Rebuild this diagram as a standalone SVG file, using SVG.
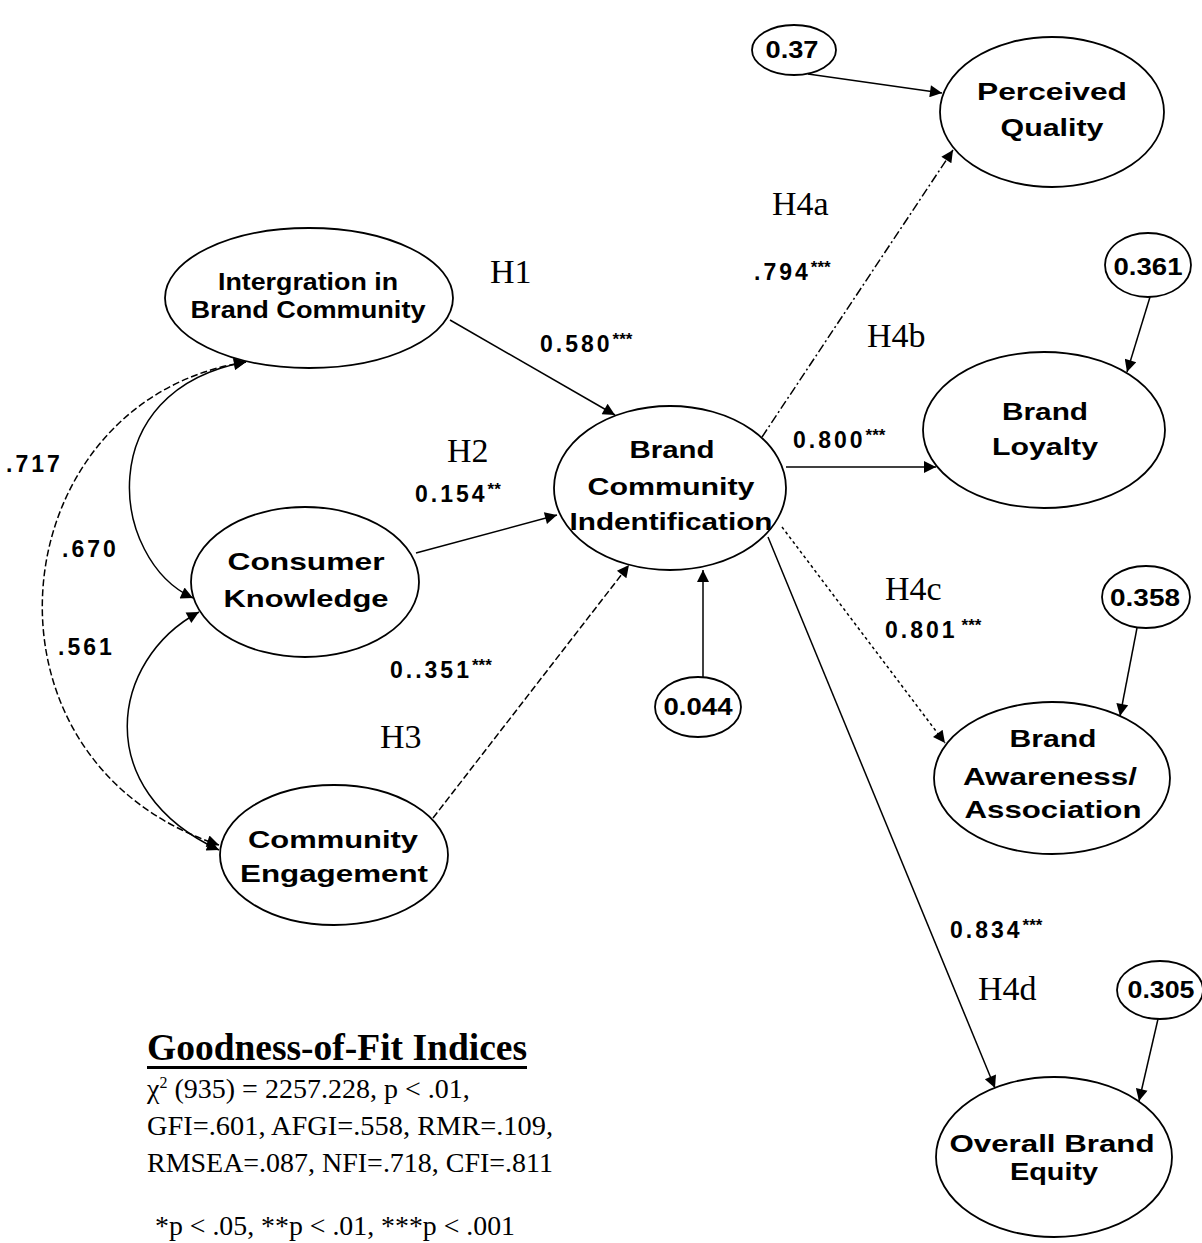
<svg xmlns="http://www.w3.org/2000/svg" width="1202" height="1243" viewBox="0 0 1202 1243">
<style>
.node{fill:#fff;stroke:#000;stroke-width:1.8}
.lbl{font-family:"Liberation Sans",Arial,sans-serif;font-weight:bold;font-size:24px;fill:#000;text-anchor:middle}
.err{font-family:"Liberation Sans",Arial,sans-serif;font-weight:bold;font-size:23px;fill:#000;text-anchor:middle}
.val{font-family:"Liberation Sans",Arial,sans-serif;font-weight:bold;font-size:23px;fill:#000;letter-spacing:3px}
.sup{font-size:17px;letter-spacing:0}
.hyp{font-family:"Liberation Serif","Times New Roman",serif;font-size:34px;fill:#000}
.fit{font-family:"Liberation Serif","Times New Roman",serif;font-size:28px;fill:#000}
.ttl{font-family:"Liberation Serif","Times New Roman",serif;font-size:37px;font-weight:bold;fill:#000}
.c{fill:none;stroke:#000;stroke-width:1.5}
</style>
<defs>
<marker id="ah" viewBox="0 0 10 10" refX="10" refY="5" markerWidth="17" markerHeight="12" markerUnits="userSpaceOnUse" orient="auto-start-reverse">
<path d="M0,0 L10,5 L0,10 z" fill="#000"/>
</marker>
</defs>
<rect width="1202" height="1243" fill="#fff"/>

<g id="connectors">
<path class="c" d="M450,320 L615,415" marker-end="url(#ah)"/>
<path class="c" d="M416,553 L557,515" marker-end="url(#ah)"/>
<path class="c" d="M433,818 L629,565" stroke-dasharray="7 3" marker-end="url(#ah)"/>
<path class="c" d="M703,677 L703,570" marker-end="url(#ah)"/>
<path class="c" d="M762,437 L953,150" stroke-dasharray="9 3 2 3" marker-end="url(#ah)"/>
<path class="c" d="M786,467 L936,467" marker-end="url(#ah)"/>
<path class="c" d="M782,527 L945,743" stroke-dasharray="3 3" marker-end="url(#ah)"/>
<path class="c" d="M768,537 L995,1088" marker-end="url(#ah)"/>
<path class="c" d="M808,74 L942,93" marker-end="url(#ah)"/>
<path class="c" d="M1150,297 L1127,372" marker-end="url(#ah)"/>
<path class="c" d="M1137,628 L1120,716" marker-end="url(#ah)"/>
<path class="c" d="M1158,1019 L1139,1101" marker-end="url(#ah)"/>
<path class="c" d="M246,362 C90,390 110,560 193,598" marker-start="url(#ah)" marker-end="url(#ah)"/>
<path class="c" d="M199,612 C110,660 90,790 219,850" marker-start="url(#ah)" marker-end="url(#ah)"/>
<path class="c" d="M246,362 C0,400 -40,760 219,845" stroke-dasharray="7 3" marker-start="url(#ah)" marker-end="url(#ah)"/>
</g>

<g id="integration">
<ellipse class="node" cx="309" cy="298" rx="144" ry="70"/>
<text class="lbl" x="308" y="290" textLength="180" lengthAdjust="spacingAndGlyphs">Intergration in</text>
<text class="lbl" x="308" y="318" textLength="235" lengthAdjust="spacingAndGlyphs">Brand Community</text>
</g>
<g id="consumer-knowledge">
<ellipse class="node" cx="305" cy="582" rx="114" ry="75"/>
<text class="lbl" x="306" y="570" textLength="157" lengthAdjust="spacingAndGlyphs">Consumer</text>
<text class="lbl" x="306" y="607" textLength="165" lengthAdjust="spacingAndGlyphs">Knowledge</text>
</g>
<g id="community-engagement">
<ellipse class="node" cx="334" cy="855" rx="114" ry="70"/>
<text class="lbl" x="333" y="848" textLength="170" lengthAdjust="spacingAndGlyphs">Community</text>
<text class="lbl" x="334" y="882" textLength="188" lengthAdjust="spacingAndGlyphs">Engagement</text>
</g>
<g id="bci">
<ellipse class="node" cx="670" cy="488" rx="116" ry="82"/>
<text class="lbl" x="672" y="458" textLength="85" lengthAdjust="spacingAndGlyphs">Brand</text>
<text class="lbl" x="671" y="495" textLength="167" lengthAdjust="spacingAndGlyphs">Community</text>
<text class="lbl" x="671" y="530" textLength="203" lengthAdjust="spacingAndGlyphs">Indentification</text>
</g>
<g id="err-bci">
<ellipse class="node" cx="698" cy="707" rx="43" ry="30"/>
<text class="err" x="698" y="715" textLength="69" lengthAdjust="spacingAndGlyphs">0.044</text>
</g>
<g id="err-pq">
<ellipse class="node" cx="794" cy="50" rx="42" ry="25"/>
<text class="err" x="792" y="58" textLength="53" lengthAdjust="spacingAndGlyphs">0.37</text>
</g>
<g id="perceived-quality">
<ellipse class="node" cx="1052" cy="112" rx="112" ry="75"/>
<text class="lbl" x="1052" y="100" textLength="150" lengthAdjust="spacingAndGlyphs">Perceived</text>
<text class="lbl" x="1052" y="136" textLength="103" lengthAdjust="spacingAndGlyphs">Quality</text>
</g>
<g id="err-bl">
<ellipse class="node" cx="1148" cy="265" rx="43" ry="32"/>
<text class="err" x="1148" y="275" textLength="69" lengthAdjust="spacingAndGlyphs">0.361</text>
</g>
<g id="brand-loyalty">
<ellipse class="node" cx="1044" cy="430" rx="121" ry="78"/>
<text class="lbl" x="1045" y="420" textLength="86" lengthAdjust="spacingAndGlyphs">Brand</text>
<text class="lbl" x="1045" y="455" textLength="106" lengthAdjust="spacingAndGlyphs">Loyalty</text>
</g>
<g id="err-baa">
<ellipse class="node" cx="1146" cy="597" rx="44" ry="31"/>
<text class="err" x="1145" y="606" textLength="70" lengthAdjust="spacingAndGlyphs">0.358</text>
</g>
<g id="brand-awareness">
<ellipse class="node" cx="1052" cy="778" rx="118" ry="76"/>
<text class="lbl" x="1053" y="747" textLength="87" lengthAdjust="spacingAndGlyphs">Brand</text>
<text class="lbl" x="1050" y="785" textLength="174" lengthAdjust="spacingAndGlyphs">Awareness/</text>
<text class="lbl" x="1053" y="818" textLength="177" lengthAdjust="spacingAndGlyphs">Association</text>
</g>
<g id="err-obe">
<ellipse class="node" cx="1160" cy="990" rx="43" ry="29"/>
<text class="err" x="1161" y="998" textLength="67" lengthAdjust="spacingAndGlyphs">0.305</text>
</g>
<g id="overall-brand-equity">
<ellipse class="node" cx="1054" cy="1157" rx="118" ry="80"/>
<text class="lbl" x="1052" y="1152" textLength="205" lengthAdjust="spacingAndGlyphs">Overall Brand</text>
<text class="lbl" x="1054" y="1180" textLength="88" lengthAdjust="spacingAndGlyphs">Equity</text>
</g>

<g id="labels">
<text class="hyp" x="490" y="283">H1</text>
<text class="hyp" x="447" y="462">H2</text>
<text class="hyp" x="380" y="748">H3</text>
<text class="hyp" x="772" y="215">H4a</text>
<text class="hyp" x="867" y="347">H4b</text>
<text class="hyp" x="885" y="600">H4c</text>
<text class="hyp" x="978" y="1000">H4d</text>
<text class="val" x="540" y="352">0.580<tspan class="sup" dy="-7">***</tspan></text>
<text class="val" x="415" y="502">0.154<tspan class="sup" dy="-7">**</tspan></text>
<text class="val" x="390" y="678">0..351<tspan class="sup" dy="-7">***</tspan></text>
<text class="val" x="754" y="280">.794<tspan class="sup" dy="-7">***</tspan></text>
<text class="val" x="793" y="448">0.800<tspan class="sup" dy="-7">***</tspan></text>
<text class="val" x="885" y="638">0.801<tspan class="sup" dx="4" dy="-7">***</tspan></text>
<text class="val" x="950" y="938">0.834<tspan class="sup" dy="-7">***</tspan></text>
<text class="val" x="6" y="472">.717</text>
<text class="val" x="62" y="557">.670</text>
<text class="val" x="58" y="655">.561</text>
</g>

<g id="fit-indices">
<text class="ttl" x="147" y="1060" textLength="380" lengthAdjust="spacingAndGlyphs">Goodness-of-Fit Indices</text>
<rect x="147" y="1066" width="380" height="3" fill="#000"/>
<text class="fit" x="147" y="1098">χ<tspan font-size="16" dy="-10">2</tspan><tspan dy="10"> (935) = 2257.228, p &lt; .01,</tspan></text>
<text class="fit" x="147" y="1135" textLength="406" lengthAdjust="spacingAndGlyphs">GFI=.601, AFGI=.558, RMR=.109,</text>
<text class="fit" x="147" y="1172" textLength="406" lengthAdjust="spacingAndGlyphs">RMSEA=.087, NFI=.718, CFI=.811</text>
<text class="fit" x="155" y="1235" textLength="360" lengthAdjust="spacingAndGlyphs">*p &lt; .05, **p &lt; .01, ***p &lt; .001</text>
</g>
</svg>
